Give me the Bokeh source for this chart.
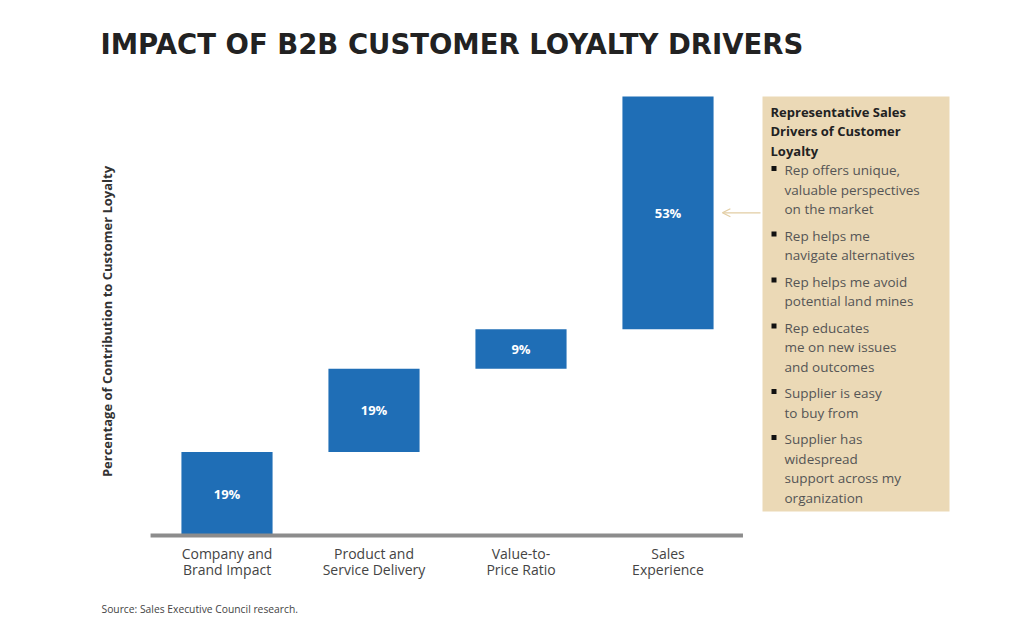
import numpy as np
from math import pi
from bokeh.plotting import figure
from bokeh.models import ColumnDataSource, Label, BoxAnnotation, Arrow, OpenHead, Range1d
from bokeh.core.properties import value
from bokeh.embed import file_html
from bokeh.resources import INLINE

# ---- data ----
categories = ["Company and\nBrand Impact", "Product and\nService Delivery",
              "Value-to-\nPrice Ratio", "Sales\nExperience"]
contributions = [19, 19, 9, 53]
bar_labels = ["19%", "19%", "9%", "53%"]
title_text = "IMPACT OF B2B CUSTOMER LOYALTY DRIVERS"
y_label_text = "Percentage of Contribution to Customer Loyalty"
source_text = "Source: Sales Executive Council research."
sidebar_heading = ["Representative Sales", "Drivers of Customer", "Loyalty"]
sidebar_items = [
    ["Rep offers unique,", "valuable perspectives", "on the market"],
    ["Rep helps me", "navigate alternatives"],
    ["Rep helps me avoid", "potential land mines"],
    ["Rep educates", "me on new issues", "and outcomes"],
    ["Supplier is easy", "to buy from"],
    ["Supplier has", "widespread", "support across my", "organization"],
]

# ---- layout constants (page pixel coords) ----
FONT = "Open Sans"
W, H = 1020, 622
X0, STEP = 226.5, 147.0        # centre of first category, category spacing (px)
Y0, PX_PER = 535.0, 4.39       # baseline (px), px per percentage point
def sx(X): return X
def sy(Y): return H - Y
def dx(X): return (X - X0) / STEP
def dy(Y): return (Y0 - Y) / PX_PER

n = len(categories)
idx = np.arange(n)
vals = np.array(contributions, dtype=float)
bottoms = np.concatenate([[0], np.cumsum(vals)[:-1]])
tops = bottoms + vals
mids = bottoms + vals / 2
BAR_W = 0.62

cat_line1 = [c.split("\n")[0] for c in categories]
cat_line2 = [c.split("\n")[1] for c in categories]

src = ColumnDataSource(dict(x=idx, bottom=bottoms, top=tops, mid=mids, label=bar_labels,
                            l1=cat_line1, l2=cat_line2))

p = figure(width=W, height=H, x_range=Range1d(dx(0), dx(W)), y_range=Range1d(dy(H), dy(0)),
           output_backend="svg", toolbar_location=None, tools="",
           min_border=0)
p.title.visible = False
p.axis.visible = False
p.outline_line_color = None
p.grid.visible = False
p.background_fill_color = "white"
p.border_fill_color = "white"

# bars
p.vbar(x="x", bottom="bottom", top="top", width=BAR_W, source=src,
       fill_color="#1f6eb6", line_color=None)
p.text(x="x", y="mid", text="label", source=src, text_color="white",
       text_font=value(FONT), text_font_style="bold", text_font_size="13px",
       text_align="center", text_baseline="middle")

# category axis: baseline + labels
p.segment(x0=[-0.52], x1=[n - 0.49], y0=[0], y1=[0], line_color="#8c8c8c", line_width=4)
for col, Y in (("l1", 553), ("l2", 568.5)):
    p.text(x="x", y=dy(Y), text=col, source=src, text_color="#444444",
           text_font=value(FONT), text_font_size="14px",
           text_align="center", text_baseline="middle")

# title
p.add_layout(Label(x=sx(100), y=sy(43.5), x_units="screen", y_units="screen", text=title_text,
                   text_font="DejaVu Sans", text_font_style="bold", text_font_size="27.5px",
                   text_color="#222222", text_baseline="alphabetic"))
# y label
p.add_layout(Label(x=sx(106), y=sy(321), x_units="screen", y_units="screen", text=y_label_text,
                   angle=pi / 2, text_font=FONT, text_font_style="bold", text_font_size="13px",
                   text_color="#333333", text_align="center", text_baseline="middle"))
# source
p.add_layout(Label(x=sx(101), y=sy(608), x_units="screen", y_units="screen", text=source_text,
                   text_font=FONT, text_font_size="10.3px", text_color="#444444",
                   text_baseline="middle"))

# sidebar box
p.add_layout(BoxAnnotation(left=sx(762), right=sx(949), top=sy(96), bottom=sy(511),
                           left_units="screen", right_units="screen",
                           top_units="screen", bottom_units="screen",
                           fill_color="#ebd9b6", fill_alpha=1, line_color=None, level="underlay"))
LH = 19.5
yy = 111
for line in sidebar_heading:
    p.add_layout(Label(x=sx(770), y=sy(yy), x_units="screen", y_units="screen", text=line,
                       text_font=FONT, text_font_style="bold", text_font_size="13px",
                       text_color="#222222", text_baseline="middle"))
    yy += LH
for item in sidebar_items:
    p.add_layout(BoxAnnotation(left=sx(771), right=sx(776), top=sy(yy - 4), bottom=sy(yy + 1),
                               left_units="screen", right_units="screen",
                               top_units="screen", bottom_units="screen",
                               fill_color="#111111", fill_alpha=1, line_color=None))
    for line in item:
        p.add_layout(Label(x=sx(784), y=sy(yy), x_units="screen", y_units="screen", text=line,
                           text_font=FONT, text_font_size="13.5px",
                           text_color="#555555", text_baseline="middle"))
        yy += LH
    yy += 7

# arrow from sidebar to the last bar
ARROW_Y = mids[-1]
p.add_layout(Arrow(x_start=dx(760), y_start=ARROW_Y, x_end=idx[-1] + BAR_W / 2 + 0.06, y_end=ARROW_Y,
                   line_color="#e2cda3", line_width=1.2,
                   end=OpenHead(size=8, line_color="#e2cda3", line_width=1.2)))

open("out.html", "w").write(file_html(p, INLINE))
